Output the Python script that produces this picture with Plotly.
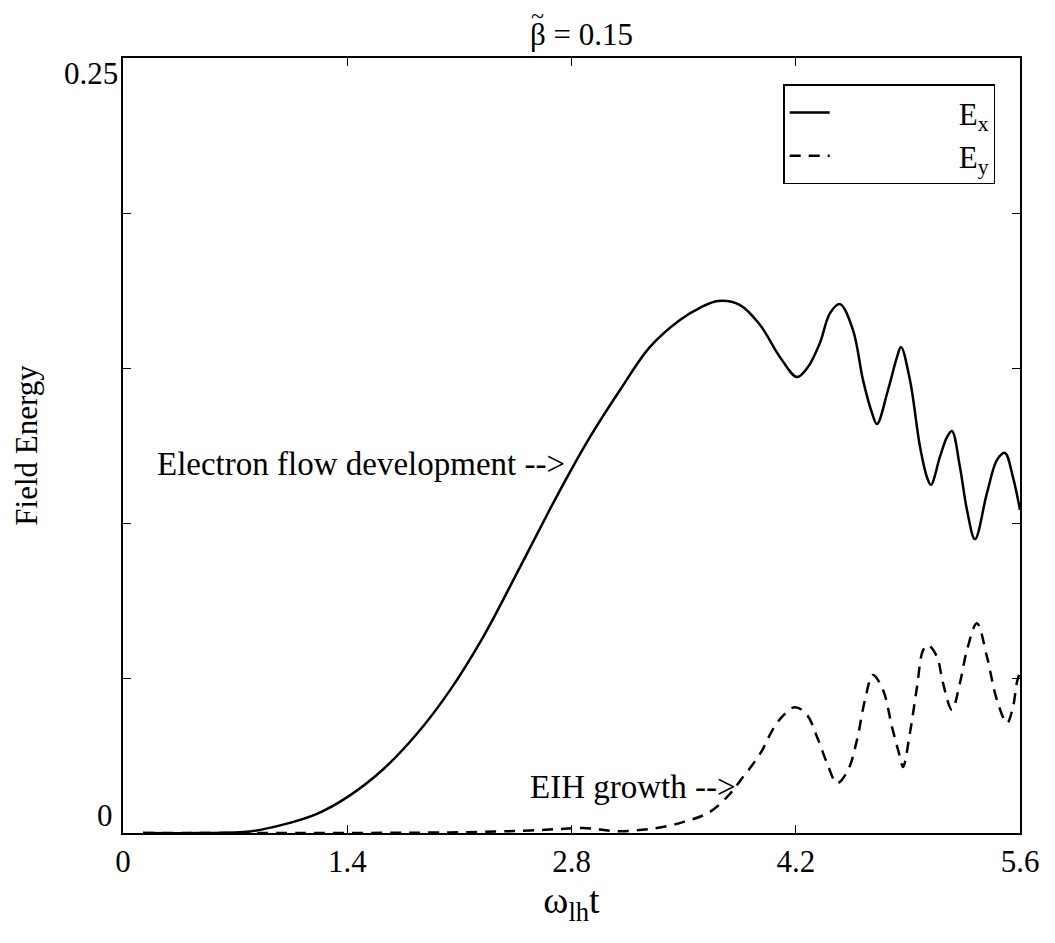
import plotly.graph_objects as go

# Time axis (omega_lh * t) and field energy for the two components
t_ex = [0.125, 0.481, 0.793, 0.999, 1.211, 1.398, 1.623, 1.835, 2.041, 2.248,
        2.460, 2.666, 2.791, 2.915, 3.103, 3.290, 3.477, 3.602, 3.715, 3.852,
        3.977, 4.102, 4.208, 4.276, 4.351, 4.414, 4.476, 4.557, 4.620, 4.676,
        4.707, 4.776, 4.832, 4.857, 4.913, 4.976, 5.019, 5.044, 5.100, 5.144,
        5.175, 5.225, 5.269, 5.319, 5.394, 5.456, 5.506, 5.556, 5.600]
e_x = [0.0, 0.0, 0.0005, 0.0027, 0.0062, 0.0115, 0.0205, 0.0320, 0.0460, 0.0632,
       0.0839, 0.1045, 0.1165, 0.1277, 0.1429, 0.1568, 0.1655, 0.1694, 0.1716, 0.1703,
       0.1639, 0.1535, 0.1471, 0.1503, 0.1581, 0.1677, 0.1706, 0.1623, 0.1461, 0.1355,
       0.1319, 0.1429, 0.1535, 0.1568, 0.1461, 0.1245, 0.1148, 0.1123, 0.1213, 0.1277,
       0.1297, 0.1181, 0.1042, 0.0948, 0.1097, 0.1203, 0.1226, 0.1148, 0.1042]

t_ey = [0.125, 1.105, 2.041, 2.541, 2.728, 2.872, 2.978, 3.084, 3.290, 3.496,
        3.664, 3.789, 3.852, 3.977, 4.058, 4.120, 4.195, 4.270, 4.333, 4.395,
        4.458, 4.526, 4.582, 4.632, 4.682, 4.745, 4.801, 4.851, 4.870, 4.913,
        4.957, 4.995, 5.026, 5.082, 5.119, 5.175, 5.225, 5.269, 5.331, 5.394,
        5.456, 5.519, 5.556, 5.581, 5.600]
e_y = [0.0, 0.0, 0.0002, 0.0008, 0.0013, 0.0016, 0.0011, 0.0006, 0.0013, 0.0035,
       0.0068, 0.0126, 0.0168, 0.0255, 0.0335, 0.0378, 0.0406, 0.0381, 0.0310, 0.0226,
       0.0161, 0.0203, 0.0300, 0.0429, 0.0510, 0.0461, 0.0342, 0.0245, 0.0213, 0.0323,
       0.0471, 0.0590, 0.0606, 0.0568, 0.0484, 0.0397, 0.0484, 0.0590, 0.0677, 0.0568,
       0.0429, 0.0355, 0.0406, 0.0487, 0.0519]

x_ticks = [0, 1.4, 2.8, 4.2, 5.6]
x_tick_labels = ["0", "1.4", "2.8", "4.2", "5.6"]
y_ticks = [0, 0.05, 0.10, 0.15, 0.20, 0.25]

FONT = "'Times New Roman', 'Liberation Serif', serif"
NB = "\u00a0"

fig = go.Figure()
fig.add_trace(go.Scatter(
    x=t_ex, y=e_x, mode="lines", name=NB * 16 + "E<sub>x</sub>",
    line=dict(color="black", width=2.5, shape="spline", smoothing=1.0),
))
fig.add_trace(go.Scatter(
    x=t_ey, y=e_y, mode="lines", name=NB * 16 + "E<sub>y</sub>",
    line=dict(color="black", width=2.5, dash="11px,8px", shape="spline", smoothing=1.0),
))

axis_common = dict(
    showline=True, linecolor="black", linewidth=2, mirror="ticks",
    ticks="inside", ticklen=8, tickwidth=1, tickcolor="black",
    showgrid=False, zeroline=False,
    tickfont=dict(family=FONT, size=31, color="black"),
)

fig.update_xaxes(
    range=[0, 5.6], tickvals=x_ticks, ticktext=x_tick_labels,
    title=dict(text="ω<sub>lh</sub>t", font=dict(family=FONT, size=38, color="black"),
               standoff=6),
    **axis_common,
)
fig.update_yaxes(
    range=[0, 0.25], tickvals=y_ticks, showticklabels=False,
    title=dict(text="Field Energy", font=dict(family=FONT, size=31, color="black"),
               standoff=74),
    **axis_common,
)

# y tick labels sit inside the axis span at the two ends
fig.add_annotation(x=0, xref="paper", y=0.25, yref="y", text="0.25",
                   xanchor="right", yanchor="top", xshift=-3, yshift=4, showarrow=False,
                   font=dict(family=FONT, size=31, color="black"))
fig.add_annotation(x=0, xref="paper", y=0, yref="y", text="0",
                   xanchor="right", yanchor="bottom", xshift=-8, yshift=-2, showarrow=False,
                   font=dict(family=FONT, size=31, color="black"))

# curve annotations
fig.add_annotation(x=2.77, y=0.119, text="Electron flow development -->",
                   xanchor="right", yanchor="middle", showarrow=False,
                   font=dict(family=FONT, size=33, color="black"))
fig.add_annotation(x=3.84, y=0.0148, text="EIH growth -->",
                   xanchor="right", yanchor="middle", showarrow=False,
                   font=dict(family=FONT, size=33, color="black"))

# heading: beta with a tilde accent above it
fig.add_annotation(x=0.4515, xref="paper", y=1.030, yref="paper", text="β = 0.15",
                   xanchor="left", yanchor="middle", showarrow=False,
                   font=dict(family=FONT, size=31, color="black"))
fig.add_annotation(x=0.4625, xref="paper", y=1.054, yref="paper", text="~",
                   xanchor="center", yanchor="middle", showarrow=False,
                   font=dict(family=FONT, size=24, color="black"))

fig.update_layout(
    width=1055, height=943,
    margin=dict(l=123, r=35, t=58, b=110),
    paper_bgcolor="white", plot_bgcolor="white",
    font=dict(family=FONT, color="black"),
    legend=dict(
        x=0.736, y=0.966, xanchor="left", yanchor="top",
        bordercolor="black", borderwidth=1.5, bgcolor="white",
        font=dict(family=FONT, size=31, color="black"),
        tracegroupgap=0, itemwidth=40,
    ),
    showlegend=True,
)

fig.write_html("out.html")
